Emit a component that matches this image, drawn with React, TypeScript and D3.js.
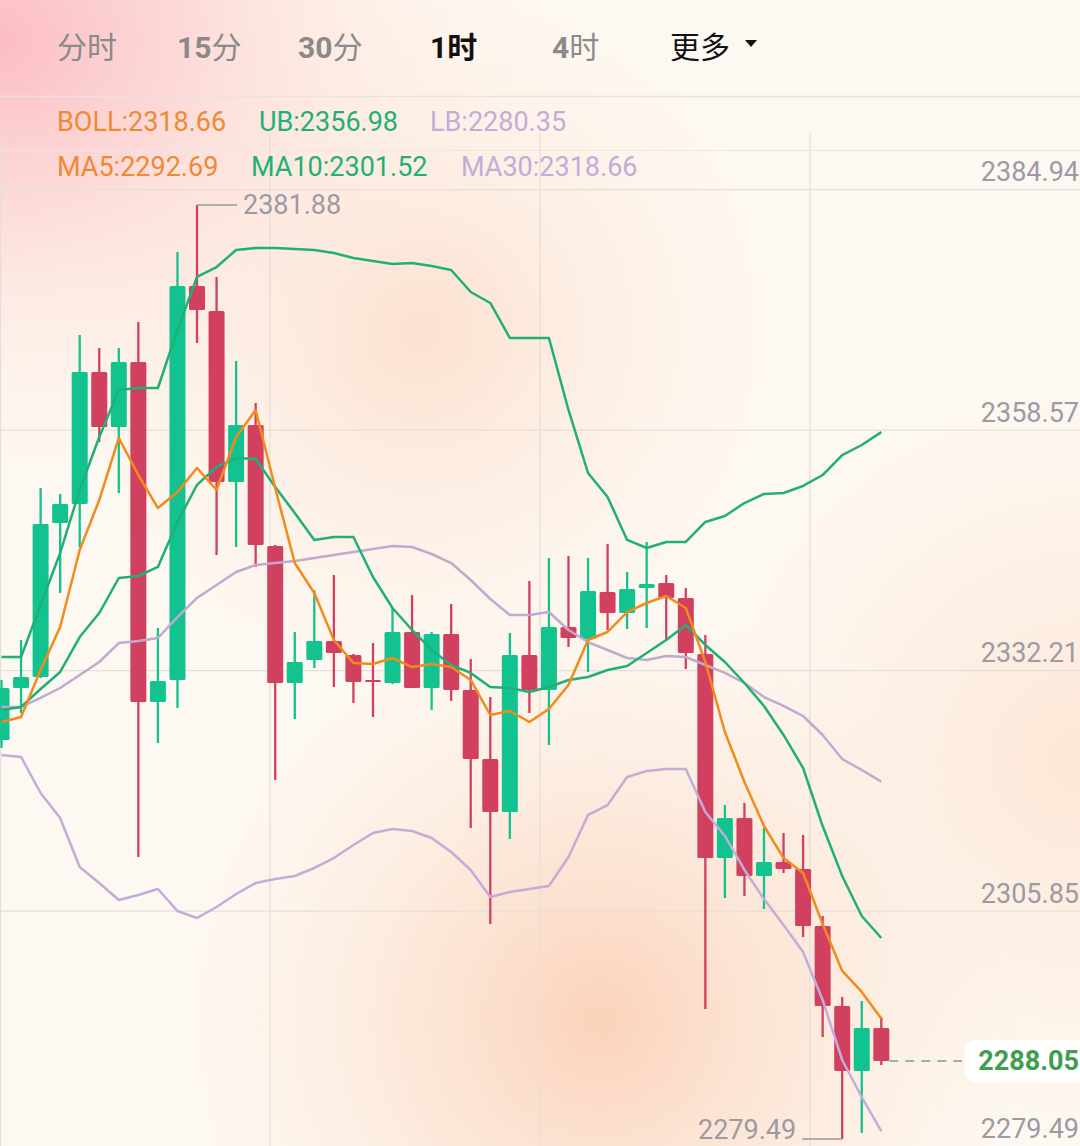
import React from "react";
import * as d3 from "d3";

const tabs = ["分时", "15分", "30分", "1时", "4时", "更多"];
const axisTicks = [2384.94, 2358.57, 2332.21, 2305.85, 2279.49];

const opens = [2323.23, 2328.93, 2330.14, 2347.02, 2349.10, 2363.57, 2357.54, 2364.67, 2327.40, 2329.81,
  2373.00, 2370.26, 2351.51, 2357.76, 2344.50, 2329.48, 2332.00, 2334.08, 2332.55, 2329.81,
  2329.48, 2335.07, 2328.93, 2334.85, 2328.71, 2321.15, 2315.34, 2332.55, 2328.71, 2335.62,
  2334.30, 2339.46, 2337.15, 2339.89, 2340.44, 2338.80, 2332.66, 2310.29, 2314.68, 2308.32,
  2309.86, 2309.09, 2302.84, 2294.07, 2286.95, 2291.66];
const highs = [2329.81, 2334.19, 2350.86, 2350.20, 2367.63, 2366.20, 2366.20, 2369.05, 2335.51, 2376.73,
  2381.88, 2373.99, 2364.78, 2360.17, 2344.61, 2335.07, 2339.67, 2341.32, 2332.66, 2333.86,
  2337.70, 2339.13, 2335.07, 2338.14, 2332.11, 2327.94, 2334.96, 2340.66, 2343.18, 2343.40,
  2343.18, 2344.72, 2341.65, 2344.94, 2341.32, 2339.89, 2334.74, 2316.10, 2316.32, 2313.58,
  2313.04, 2312.82, 2303.94, 2295.06, 2294.62, 2292.86];
const lows = [2322.35, 2326.19, 2330.03, 2339.35, 2344.39, 2355.90, 2350.31, 2310.40, 2322.90, 2326.74,
  2366.75, 2343.51, 2344.39, 2342.20, 2318.85, 2325.53, 2331.12, 2329.04, 2327.29, 2325.75,
  2329.37, 2328.93, 2326.52, 2327.51, 2313.58, 2303.06, 2312.38, 2326.19, 2322.68, 2333.43,
  2330.69, 2335.29, 2335.40, 2335.51, 2334.19, 2331.01, 2293.74, 2305.91, 2306.13, 2304.70,
  2308.65, 2301.63, 2290.67, 2279.49, 2280.15, 2287.60];
const closes = [2328.93, 2330.14, 2346.91, 2349.10, 2363.57, 2357.54, 2364.67, 2327.40, 2329.70, 2373.00,
  2370.37, 2351.51, 2357.76, 2344.61, 2329.48, 2331.78, 2334.08, 2332.77, 2329.59, 2329.70,
  2335.07, 2328.93, 2334.85, 2328.71, 2321.15, 2315.34, 2332.55, 2328.71, 2335.62, 2334.41,
  2339.56, 2337.15, 2339.78, 2340.33, 2338.80, 2332.77, 2310.29, 2314.68, 2308.32, 2309.86,
  2309.09, 2302.84, 2294.07, 2286.95, 2291.66, 2288.05];

const ma5 = [2325.20, 2325.75, 2330.90, 2335.62, 2344.06, 2349.54, 2356.34, 2352.28, 2348.66, 2350.42,
  2353.05, 2350.64, 2356.45, 2359.41, 2350.86, 2342.63, 2339.35, 2334.19, 2331.67, 2331.56,
  2332.22, 2331.23, 2331.56, 2331.23, 2329.81, 2325.97, 2326.41, 2325.20, 2326.63, 2329.26,
  2334.19, 2335.07, 2337.26, 2338.25, 2339.02, 2337.70, 2331.78, 2324.11, 2318.63, 2313.80,
  2310.29, 2308.65, 2303.06, 2297.91, 2295.61, 2292.69];
const ma10 = [2326.52, 2326.85, 2328.82, 2330.69, 2334.52, 2337.15, 2340.99, 2341.21, 2342.20, 2347.13,
  2351.19, 2353.16, 2354.14, 2354.04, 2350.97, 2348.12, 2345.16, 2345.48, 2345.48, 2341.10,
  2337.70, 2335.29, 2333.10, 2331.45, 2330.58, 2329.04, 2328.93, 2328.49, 2329.04, 2329.81,
  2330.14, 2330.90, 2331.34, 2332.77, 2334.19, 2335.84, 2333.65, 2331.78, 2329.48, 2326.96,
  2323.78, 2320.16, 2313.80, 2308.32, 2303.94, 2301.52];
const ma30 = [2326.85, 2326.85, 2327.84, 2328.93, 2330.36, 2331.78, 2333.86, 2334.08, 2334.41, 2336.71,
  2338.80, 2340.22, 2341.65, 2342.42, 2342.63, 2342.85, 2343.18, 2343.51, 2343.84, 2344.17,
  2344.50, 2344.39, 2343.62, 2342.63, 2340.77, 2338.69, 2336.93, 2336.93, 2337.26, 2335.29,
  2333.97, 2333.10, 2332.22, 2332.00, 2332.44, 2332.33, 2331.45, 2330.58, 2329.48, 2327.94,
  2326.96, 2325.86, 2323.78, 2321.15, 2319.94, 2318.66];
const ub = [2332.33, 2332.33, 2338.03, 2343.73, 2350.64, 2356.45, 2361.60, 2361.82, 2361.82, 2368.18,
  2373.99, 2375.08, 2376.95, 2377.17, 2377.17, 2377.06, 2376.95, 2376.62, 2376.07, 2375.74,
  2375.41, 2375.52, 2375.19, 2374.75, 2372.34, 2371.14, 2367.30, 2367.30, 2367.30, 2359.41,
  2352.50, 2349.87, 2345.16, 2344.28, 2344.94, 2344.94, 2347.13, 2347.79, 2349.21, 2350.20,
  2350.31, 2351.08, 2352.28, 2354.47, 2355.57, 2356.98];
const lb = [2321.59, 2321.37, 2317.42, 2314.68, 2309.31, 2307.55, 2305.69, 2306.24, 2306.90, 2304.48,
  2303.72, 2304.92, 2306.35, 2307.55, 2307.99, 2308.32, 2309.20, 2310.29, 2311.72, 2313.04,
  2313.47, 2313.26, 2312.49, 2310.95, 2308.98, 2306.02, 2306.57, 2306.90, 2307.23, 2310.40,
  2315.01, 2316.10, 2319.17, 2319.83, 2320.05, 2320.05, 2315.34, 2312.71, 2308.98, 2305.80,
  2302.95, 2299.99, 2294.73, 2288.15, 2284.09, 2280.35];

const legendRow1 = [
  { label: "BOLL:2318.66", color: "#ef8a33", x: 57 },
  { label: "UB:2356.98", color: "#1fb077", x: 259 },
  { label: "LB:2280.35", color: "#c4acd8", x: 430 },
];
const legendRow2 = [
  { label: "MA5:2292.69", color: "#ef8a33", x: 57 },
  { label: "MA10:2301.52", color: "#1fb077", x: 251 },
  { label: "MA30:2318.66", color: "#c4acd8", x: 461 },
];

const W = 1080;
const H = 1146;
const FONT = "Roboto, 'Noto Sans CJK SC', sans-serif";
const UP = "#12c28f";
const DOWN = "#d1405f";

export default function App() {
  const n = closes.length;
  const x = d3.scaleLinear().domain([0, n - 1]).range([1.5, 881.3]);
  const y = d3.scaleLinear().domain([2279.49, 2381.88]).range([1139, 205]);
  const idx = d3.range(n);
  const line = (arr: number[]) =>
    d3.line<number>().x((_, i) => x(i)).y((d) => y(d))(arr) || "";

  const hiI = d3.maxIndex(highs);
  const loI = d3.minIndex(lows);
  const lastC = closes[n - 1];

  const tabX = [57, 177, 298, 430, 552, 670];
  const bw = 16;

  return (
    <div style={{ position: "absolute", left: 0, top: 0, width: W, height: H, overflow: "hidden" }}>
      <svg width={W} height={H} style={{ display: "block" }} fontFamily={FONT}>
        <defs>
          <radialGradient id="gPink" cx="0" cy="40" r="520" gradientUnits="userSpaceOnUse"
            gradientTransform="translate(0,40) scale(1,0.85) translate(0,-40)">
            <stop offset="0" stopColor="#fbbcc3" stopOpacity="1" />
            <stop offset="0.35" stopColor="#fccfcf" stopOpacity="0.75" />
            <stop offset="0.7" stopColor="#fde2da" stopOpacity="0.35" />
            <stop offset="1" stopColor="#fdeee4" stopOpacity="0" />
          </radialGradient>
          <radialGradient id="gPeach1" cx="600" cy="1020" r="420" gradientUnits="userSpaceOnUse">
            <stop offset="0" stopColor="#fbd0b8" stopOpacity="0.95" />
            <stop offset="0.45" stopColor="#fcdcc8" stopOpacity="0.6" />
            <stop offset="1" stopColor="#fde9db" stopOpacity="0" />
          </radialGradient>
          <radialGradient id="gPeach2" cx="420" cy="330" r="360" gradientUnits="userSpaceOnUse">
            <stop offset="0" stopColor="#fcdcc9" stopOpacity="0.85" />
            <stop offset="0.5" stopColor="#fde5d6" stopOpacity="0.45" />
            <stop offset="1" stopColor="#fdece0" stopOpacity="0" />
          </radialGradient>
          <radialGradient id="gPeach3" cx="1080" cy="760" r="380" gradientUnits="userSpaceOnUse">
            <stop offset="0" stopColor="#fde2cf" stopOpacity="0.8" />
            <stop offset="1" stopColor="#fdeadc" stopOpacity="0" />
          </radialGradient>
        </defs>
        <rect x={0} y={0} width={W} height={H} fill="#fdf8f1" />
        <rect x={0} y={0} width={W} height={H} fill="url(#gPeach2)" />
        <rect x={0} y={0} width={W} height={H} fill="url(#gPeach3)" />
        <rect x={0} y={0} width={W} height={H} fill="url(#gPeach1)" />
        <rect x={0} y={0} width={W} height={H} fill="url(#gPink)" />

        {/* tabs */}
        {tabs.map((t, i) => {
          const active = t === "1时";
          const more = t === "更多";
          const color = active || more ? "#111" : "#8a8a8a";
          const m = t.match(/^(\d+)(.*)$/);
          return (
            <text key={t} x={tabX[i]} y={58} fontSize={30} fill={color}>
              {m ? (
                <>
                  <tspan fontWeight="bold">{m[1]}</tspan>
                  <tspan fontWeight={active ? "bold" : "normal"}>{m[2]}</tspan>
                </>
              ) : (
                t
              )}
            </text>
          );
        })}
        <path d="M745,40 L757,40 L751,47 Z" fill="#111" />

        {/* separators and grid */}
        <line x1={0} x2={W} y1={96.5} y2={96.5} stroke="#ebe2da" strokeWidth={1.5} />
        <line x1={0} x2={W} y1={150.5} y2={150.5} stroke="#efe6de" strokeWidth={1.2} />
        {[0.5, 270, 540, 810].map((gx) => (
          <line key={gx} x1={gx} x2={gx} y1={133} y2={H} stroke="#e6dfd9" strokeWidth={1.3} />
        ))}
        {axisTicks.map((v) => (
          <line key={v} x1={0} x2={W} y1={y(v) + 12.5} y2={y(v) + 12.5} stroke="#e6dfd9" strokeWidth={1.3} />
        ))}

        {/* legends */}
        {legendRow1.map((l) => (
          <text key={l.label} x={l.x} y={131} fontSize={27} fill={l.color}>{l.label}</text>
        ))}
        {legendRow2.map((l) => (
          <text key={l.label} x={l.x} y={176} fontSize={27} fill={l.color}>{l.label}</text>
        ))}

        {/* axis labels */}
        {axisTicks.map((v, i) => (
          <text key={"t" + v} x={1079} y={i === axisTicks.length - 1 ? 1138 : y(v) + 4} fontSize={27} fill="#9b9aa5" textAnchor="end">
            {v.toFixed(2)}
          </text>
        ))}

        {/* candles */}
        {idx.map((i) => {
          const up = closes[i] >= opens[i];
          const c = up ? UP : DOWN;
          const top = y(Math.max(opens[i], closes[i]));
          const bot = y(Math.min(opens[i], closes[i]));
          const h = Math.max(2, bot - top);
          return (
            <g key={i}>
              <line x1={x(i)} x2={x(i)} y1={y(highs[i])} y2={y(lows[i])} stroke={c} strokeWidth={2.3} />
              <rect x={x(i) - bw / 2} y={top} width={bw} height={h} fill={c} rx={1.5} />
            </g>
          );
        })}

        {/* indicator lines */}
        <path d={line(lb)} fill="none" stroke="#c4acd8" strokeWidth={2.5} strokeLinejoin="round" />
        <path d={line(ma30)} fill="none" stroke="#c0aacf" strokeWidth={2.5} strokeLinejoin="round" />
        <path d={line(ub)} fill="none" stroke="#1fb077" strokeWidth={2.5} strokeLinejoin="round" />
        <path d={line(ma10)} fill="none" stroke="#1fb077" strokeWidth={2.5} strokeLinejoin="round" />
        <path d={line(ma5)} fill="none" stroke="#f28a1c" strokeWidth={2.5} strokeLinejoin="round" />

        {/* high marker */}
        <line x1={x(hiI)} x2={x(hiI) + 40} y1={y(highs[hiI])} y2={y(highs[hiI])} stroke="#999" strokeWidth={1.5} />
        <text x={x(hiI) + 46} y={y(highs[hiI]) + 9} fontSize={27} fill="#9b9aa5">{highs[hiI].toFixed(2)}</text>

        {/* low marker */}
        <line x1={x(loI) - 40} x2={x(loI)} y1={y(lows[loI])} y2={y(lows[loI])} stroke="#999" strokeWidth={1.5} />
        <text x={x(loI) - 46} y={1139} fontSize={27} fill="#9b9aa5" textAnchor="end">
          {lows[loI].toFixed(2)}
        </text>

        {/* last price */}
        <line x1={x(n - 1) + 8} x2={962} y1={y(lastC)} y2={y(lastC)} stroke="#6aab74" strokeWidth={1.5} strokeDasharray="9,7" />
        <rect x={965} y={y(lastC) - 21} width={130} height={42} rx={10} fill="#ffffff" opacity={0.95} />
        <text x={1079} y={y(lastC) + 9} fontSize={27} fontWeight="bold" fill="#3f9d4f" textAnchor="end">
          {lastC.toFixed(2)}
        </text>
      </svg>
    </div>
  );
}
